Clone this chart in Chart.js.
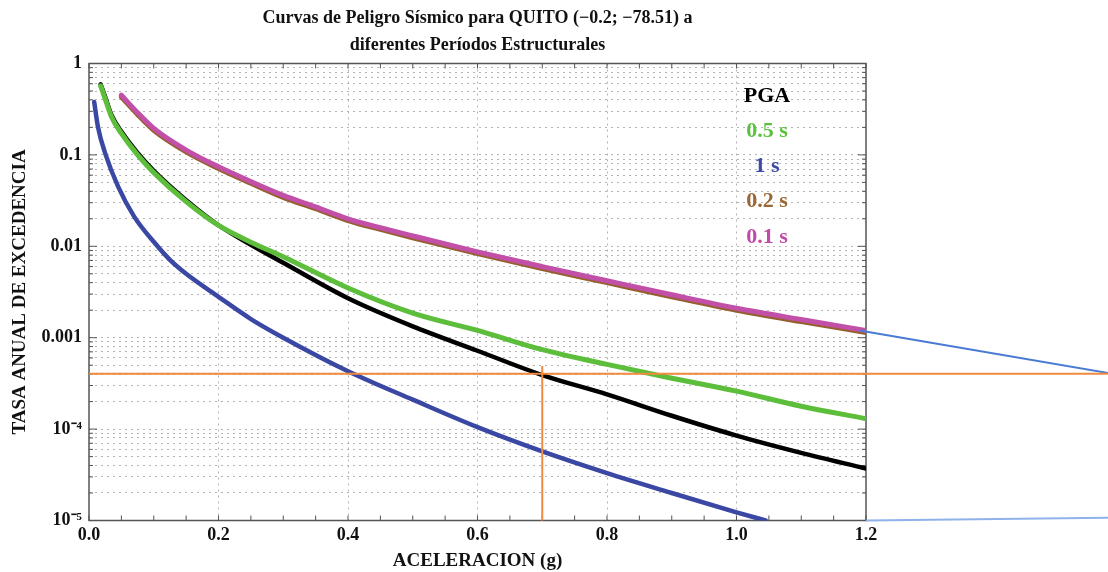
<!DOCTYPE html>
<html lang="es">
<head>
	<meta charset="UTF-8">
	<script src="https://cdn.jsdelivr.net/npm/chart.js"></script>
	<title>Curvas de Peligro Sísmico - QUITO</title>
	<style>
		body { margin: 0; background: #fff; }
		#zonagrafico { width: 1108px; height: 572px; }
	</style>
</head>
<body>
	<div id="zonagrafico"><canvas id="grafico"></canvas></div>
	<script type="text/javascript">
		// Valores (aceleracion en g, tasa anual de excedencia)
		const pgaX = [0.018, 0.025, 0.035, 0.05, 0.075, 0.1, 0.15, 0.2, 0.25, 0.3, 0.4, 0.5, 0.6, 0.7, 0.8, 0.9, 1.0, 1.1, 1.2];
		const pgaY = [0.59, 0.43, 0.27, 0.18, 0.105, 0.067, 0.032, 0.017, 0.0104, 0.0066, 0.0027, 0.00133, 0.00072, 0.00039, 0.00024, 0.00014, 0.000085, 0.000055, 0.000037];

		const s05X = [0.018, 0.025, 0.035, 0.05, 0.075, 0.1, 0.15, 0.2, 0.25, 0.3, 0.4, 0.5, 0.6, 0.7, 0.8, 0.9, 1.0, 1.1, 1.2];
		const s05Y = [0.57, 0.41, 0.258, 0.172, 0.1, 0.064, 0.0308, 0.0169, 0.0111, 0.0077, 0.0035, 0.00186, 0.0012, 0.00074, 0.00051, 0.00036, 0.00026, 0.000178, 0.00013];

		const s1X = [0.008, 0.014, 0.025, 0.045, 0.07, 0.1, 0.125, 0.15, 0.2, 0.25, 0.3, 0.4, 0.5, 0.6, 0.7, 0.8, 0.9, 1.0, 1.045];
		const s1Y = [0.38, 0.2, 0.104, 0.045, 0.021, 0.0112, 0.0071, 0.005, 0.0028, 0.0016, 0.001, 0.00043, 0.00021, 0.000105, 0.000057, 0.000033, 0.00002, 0.0000123, 0.00001];

		const s02X = [0.05, 0.075, 0.1, 0.15, 0.2, 0.25, 0.3, 0.35, 0.4, 0.45, 0.5, 0.6, 0.7, 0.8, 0.9, 1.0, 1.1, 1.2];
		const s02Y = [0.43, 0.277, 0.186, 0.108, 0.071, 0.049, 0.0343, 0.0258, 0.0191, 0.0153, 0.0124, 0.0083, 0.0057, 0.004, 0.00281, 0.002, 0.0015, 0.00114];

		const s01X = [0.05, 0.075, 0.1, 0.15, 0.2, 0.25, 0.3, 0.35, 0.4, 0.45, 0.5, 0.6, 0.7, 0.8, 0.9, 1.0, 1.1, 1.2];
		const s01Y = [0.45, 0.29, 0.195, 0.113, 0.074, 0.051, 0.036, 0.027, 0.020, 0.016, 0.013, 0.0087, 0.006, 0.0042, 0.00295, 0.0021, 0.00158, 0.0012];

		// lineas de referencia (naranja) y lineas de llamada (azul claro)
		const horizX = [0, 1.574];
		const horizY = [0.000404, 0.000404];
		const vertX = [0.7, 0.7];
		const vertY = [0.00001, 0.00049];
		const llamadaSupX = [1.19, 1.574];
		const llamadaSupY = [0.0012, 0.00041];
		const llamadaInfX = [1.2, 1.574];
		const llamadaInfY = [0.00001, 0.0000107];

		const yTickValues = [0.00001, 0.0001, 0.001, 0.01, 0.1, 1];
		const yTickLabels = ['10\u207B\u2075', '10\u207B\u2074', '0.001', '0.01', '0.1', '1'];
		const xTickValues = [0, 0.2, 0.4, 0.6, 0.8, 1.0, 1.2];
		const xTickLabels = ['0.0', '0.2', '0.4', '0.6', '0.8', '1.0', '1.2'];

		const leyendaTextos = ['PGA', '0.5 s', '1 s', '0.2 s', '0.1 s'];
		const leyendaColores = ['#000000', '#5cc03f', '#3a4aa6', '#9a6634', '#c04ca6'];

		const fuente = "'Liberation Serif', 'Times New Roman', serif";

		function serie(xs, ys) {
			return xs.map((x, i) => ({x: x, y: ys[i]}));
		}

		function curva(xs, ys, color, ancho) {
			return {
				data: serie(xs, ys),
				borderColor: color,
				borderWidth: ancho,
				pointRadius: 0,
				cubicInterpolationMode: 'monotone',
				borderCapStyle: 'round',
				borderJoinStyle: 'round'
			};
		}

		function recta(xs, ys, color, ancho) {
			return {
				data: serie(xs, ys),
				borderColor: color,
				borderWidth: ancho,
				pointRadius: 0,
				tension: 0,
				clip: false
			};
		}

		// marco, marcas interiores y leyenda de texto
		const marco = {
			id: 'marco',
			beforeDatasetsDraw(chart) {
				const {ctx, chartArea: a, scales: {x, y}} = chart;
				ctx.save();
				ctx.strokeStyle = '#555';
				ctx.lineWidth = 1;
				ctx.beginPath();
				x.ticks.forEach(t => {
					const px = x.getPixelForValue(t.value);
					ctx.moveTo(px, a.bottom); ctx.lineTo(px, a.bottom - 5);
					ctx.moveTo(px, a.top); ctx.lineTo(px, a.top + 5);
				});
				y.ticks.forEach(t => {
					const py = y.getPixelForValue(t.value);
					const lg = Math.log10(t.value);
					const len = Math.abs(lg - Math.round(lg)) < 1e-9 ? 8 : 4;
					ctx.moveTo(a.left, py); ctx.lineTo(a.left + len, py);
					ctx.moveTo(a.right, py); ctx.lineTo(a.right - len, py);
				});
				ctx.stroke();
				ctx.lineWidth = 1.5;
				ctx.strokeRect(a.left, a.top, a.right - a.left, a.bottom - a.top);
				ctx.restore();
			},
			afterDatasetsDraw(chart) {
				const {ctx, chartArea: a, scales: {x}} = chart;
				ctx.save();
				ctx.font = 'bold 22px ' + fuente;
				ctx.textAlign = 'center';
				ctx.textBaseline = 'alphabetic';
				const cx = x.getPixelForValue(1.047);
				leyendaTextos.forEach((txt, i) => {
					ctx.fillStyle = leyendaColores[i];
					ctx.fillText(txt, cx, a.top + 38 + i * 35.3);
				});
				ctx.restore();
			}
		};

		new Chart(document.getElementById('grafico'), {
			type: 'line',
			data: {
				datasets: [
					recta(horizX, horizY, '#f08a3e', 2),
					recta(vertX, vertY, '#f08a3e', 2),
					recta(llamadaSupX, llamadaSupY, '#4a7bd4', 2),
					recta(llamadaInfX, llamadaInfY, '#8fb2ea', 2),
					curva(s01X, s01Y, '#c24fa8', 5),
					curva(s02X, s02Y, '#96602e', 5),
					curva(s05X, s05Y, '#5dbe3c', 5),
					curva(pgaX, pgaY, '#000000', 4.5),
					curva(s1X, s1Y, '#3a48a4', 4.5)
				]
			},
			options: {
				responsive: true,
				maintainAspectRatio: false,
				animation: false,
				layout: { padding: { left: 0, right: 242, top: 0, bottom: 0 } },
				plugins: {
					legend: { display: false },
					tooltip: { enabled: false },
					title: {
						display: true,
						fullSize: false,
						text: ['Curvas de Peligro Sísmico para QUITO (\u22120.2; \u221278.51) a', 'diferentes Períodos Estructurales'],
						color: '#111',
						font: { family: fuente, size: 18, weight: 'bold', lineHeight: 1.5 },
						padding: { top: 5, bottom: 4.5 }
					}
				},
				scales: {
					x: {
						type: 'linear',
						min: 0,
						max: 1.2,
						afterFit(scale) { scale.height = 51.5; },
						ticks: {
							stepSize: 0.05,
							autoSkip: false,
							maxRotation: 0,
							padding: 4,
							color: '#111',
							font: { family: fuente, size: 18, weight: 'bold' },
							callback(v) {
								const i = xTickValues.findIndex(t => Math.abs(t - v) < 1e-6);
								return i >= 0 ? xTickLabels[i] : '';
							}
						},
						grid: {
							drawTicks: false,
							lineWidth: 1,
							color(c) {
								const v = c.tick ? c.tick.value : 0;
								const dentro = Math.round(v * 20) % 4 === 0 && v > 0.01 && v < 1.19;
								return dentro ? '#b3b3b3' : 'rgba(0,0,0,0)';
							}
						},
						border: { display: false, dash: [2, 4] },
						title: {
							display: true,
							text: 'ACELERACION (g)',
							color: '#111',
							font: { family: fuente, size: 19, weight: 'bold' },
							padding: { top: 0, bottom: 0 }
						}
					},
					y: {
						type: 'logarithmic',
						min: 0.00001,
						max: 1,
						afterFit(scale) { scale.width = 89; },
						afterBuildTicks(scale) {
							const vals = [];
							for (let k = -5; k < 0; k++) {
								for (let m = 1; m <= 9; m++) vals.push(m * Math.pow(10, k));
							}
							vals.push(1);
							scale.ticks = vals.map(v => ({value: v}));
						},
						ticks: {
							autoSkip: false,
							padding: 7,
							color: '#111',
							font: { family: fuente, size: 18, weight: 'bold' },
							callback(v) {
								const i = yTickValues.findIndex(t => Math.abs(Math.log10(t) - Math.log10(v)) < 1e-6);
								return i >= 0 ? yTickLabels[i] : '';
							}
						},
						grid: {
							drawTicks: false,
							lineWidth: 1,
							color(c) {
								const v = c.tick ? c.tick.value : 1;
								return (v > 0.0000101 && v < 0.99) ? '#b3b3b3' : 'rgba(0,0,0,0)';
							}
						},
						border: { display: false, dash: [2, 4] },
						title: {
							display: true,
							text: 'TASA ANUAL DE EXCEDENCIA',
							color: '#111',
							font: { family: fuente, size: 19, weight: 'bold' },
							padding: { top: 9, bottom: 0 }
						}
					}
				}
			},
			plugins: [marco]
		});
	</script>
</body>
</html>
